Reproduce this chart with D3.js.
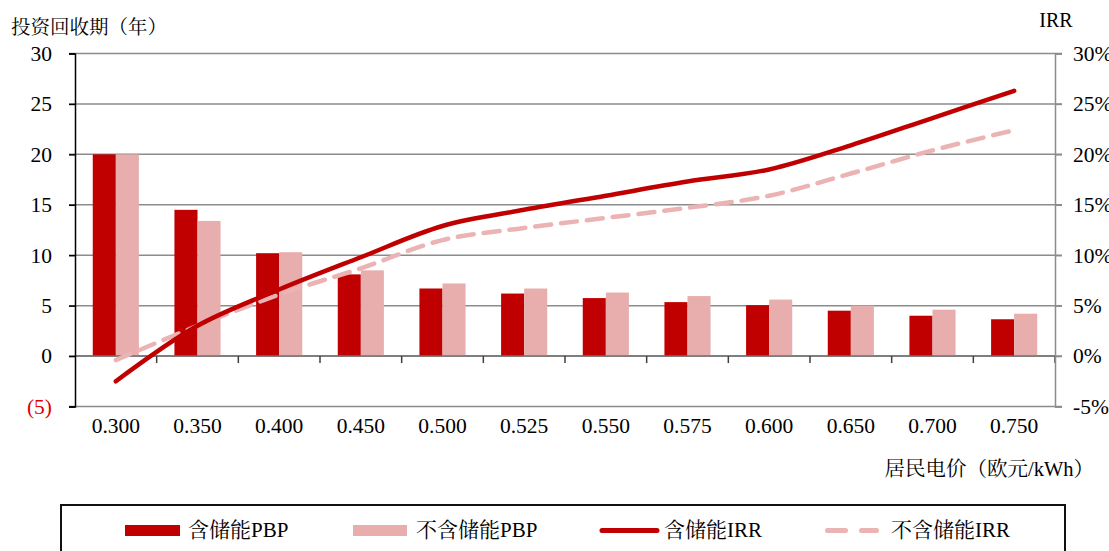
<!DOCTYPE html>
<html>
<head>
<meta charset="utf-8">
<script src="https://cdn.jsdelivr.net/npm/d3@7"></script>
<style>
  html, body { margin: 0; padding: 0; background: #fff; }
  svg { display: block; }
  text { font-family: "Liberation Serif", "Times New Roman", "Noto Serif CJK SC", "Noto Sans CJK SC", serif; }
</style>
</head>
<body>
<svg id="chart" width="1109" height="551"></svg>
<script>
// Residential electricity price (EUR/kWh)
const prices = ["0.300","0.350","0.400","0.450","0.500","0.525","0.550","0.575","0.600","0.650","0.700","0.750"];
// Payback period (years)
const pbpWithStorage    = [20.0, 14.5, 10.2, 8.1, 6.7, 6.2, 5.75, 5.35, 5.05, 4.5, 4.0, 3.65];
const pbpWithoutStorage = [20.0, 13.4, 10.3, 8.5, 7.2, 6.7, 6.3, 5.95, 5.6, 5.0, 4.6, 4.2];
// Internal rate of return (%)
const irrWithStorage    = [-2.5, 3.0, 6.6, 9.8, 12.9, 14.5, 15.9, 17.3, 18.5, 20.9, 23.6, 26.3];
const irrWithoutStorage = [-0.4, 3.0, 6.1, 8.7, 11.5, 12.7, 13.7, 14.7, 15.9, 18.1, 20.4, 22.4];
// Axis ticks
const leftTicks  = [-5, 0, 5, 10, 15, 20, 25, 30];
const rightTicks = [-5, 0, 5, 10, 15, 20, 25, 30];

const seriesNames = ["含储能PBP", "不含储能PBP", "含储能IRR", "不含储能IRR"];
const colors = { dark: "#C00000", light: "#E8AEAE", dash: "#EBB3B3", grid: "#8c8c8c" };

const svg = d3.select("#chart");
const plotLeft = 75, plotRight = 1055, plotTop = 53.5, plotBottom = 406.5;
const numFont = 21.5;

const x = d3.scaleBand().domain(prices).range([plotLeft, plotRight]).paddingInner(0).paddingOuter(0);
const sub = d3.scaleBand().domain(["with", "without"]).range([0, x.bandwidth()]).paddingInner(0).paddingOuter(0.77);
const y = d3.scaleLinear().domain([-5, 30]).range([plotBottom, plotTop]);   // years
const yr = d3.scaleLinear().domain([-5, 30]).range([plotBottom, plotTop]);  // percent

// Horizontal gridlines
svg.append("g").selectAll("line").data(leftTicks).join("line")
  .attr("x1", plotLeft - 6).attr("x2", plotRight + 7)
  .attr("y1", d => y(d)).attr("y2", d => y(d))
  .attr("stroke", colors.grid).attr("stroke-width", 1.5);

// Bars
const groups = svg.append("g").selectAll("g").data(prices).join("g")
  .attr("transform", d => `translate(${x(d)},0)`);
groups.append("rect")
  .attr("x", sub("with")).attr("width", sub.bandwidth())
  .attr("y", (d, i) => y(pbpWithStorage[i]))
  .attr("height", (d, i) => y(0) - y(pbpWithStorage[i]))
  .attr("fill", colors.dark);
groups.append("rect")
  .attr("x", sub("without")).attr("width", sub.bandwidth())
  .attr("y", (d, i) => y(pbpWithoutStorage[i]))
  .attr("height", (d, i) => y(0) - y(pbpWithoutStorage[i]))
  .attr("fill", colors.light);

// Category axis on the zero line
const xAxis = svg.append("g").attr("transform", `translate(0,${y(0)})`);
xAxis.append("line").attr("x1", plotLeft).attr("x2", plotRight).attr("y1", 0).attr("y2", 0)
  .attr("stroke", "#707070").attr("stroke-width", 1.5);
xAxis.selectAll("line.tk").data(prices).join("line")
  .attr("class", "tk")
  .attr("x1", d => x(d) + x.step()).attr("x2", d => x(d) + x.step())
  .attr("y1", 0).attr("y2", 7)
  .attr("stroke", "#404040").attr("stroke-width", 1.5);

// Category labels below the plot
svg.append("g").selectAll("text").data(prices).join("text")
  .attr("x", d => x(d) + x.bandwidth() / 2).attr("y", plotBottom + 26)
  .attr("text-anchor", "middle").attr("font-size", numFont).attr("fill", "#000").text(d => d);

// Left axis
const yAxis = d3.axisLeft(y).tickValues(leftTicks).tickSize(6).tickPadding(17)
  .tickFormat(d => d < 0 ? `(${-d})` : d);
const gl = svg.append("g").attr("transform", `translate(${plotLeft},0)`).call(yAxis);
gl.attr("font-size", null).attr("font-family", null);
gl.select(".domain").attr("stroke", "#000").attr("stroke-width", 1.5);
gl.selectAll(".tick line").attr("stroke", "#000").attr("stroke-width", 1.5);
gl.selectAll(".tick text").style("font-size", numFont + "px")
  .style("fill", d => d < 0 ? "#E00000" : "#000");

// Right axis
const yAxisR = d3.axisRight(yr).tickValues(rightTicks).tickSize(7).tickPadding(11)
  .tickFormat(d => d + "%");
const gr = svg.append("g").attr("transform", `translate(${plotRight},0)`).call(yAxisR);
gr.attr("font-size", null).attr("font-family", null);
gr.select(".domain").attr("stroke", colors.grid).attr("stroke-width", 1.5);
gr.selectAll(".tick line").attr("stroke", colors.grid).attr("stroke-width", 1.5);
gr.selectAll(".tick text").style("font-size", numFont + "px").style("fill", "#000");

// IRR lines
const line = d3.line()
  .x((d, i) => x(prices[i]) + x.bandwidth() / 2)
  .y(d => yr(d))
  .curve(d3.curveCatmullRom.alpha(0.5));
svg.append("path").datum(irrWithoutStorage).attr("d", line)
  .attr("fill", "none").attr("stroke", colors.dash).attr("stroke-width", 4.5)
  .attr("stroke-dasharray", "16 10").attr("stroke-linecap", "round");
svg.append("path").datum(irrWithStorage).attr("d", line)
  .attr("fill", "none").attr("stroke", colors.dark).attr("stroke-width", 4.5)
  .attr("stroke-linecap", "round");

// Axis titles
svg.append("text").attr("x", 11).attr("y", 34).attr("font-size", 19.5).attr("fill", "#000")
  .text("投资回收期（年）");
svg.append("text").attr("x", 1056).attr("y", 27).attr("text-anchor", "middle").attr("font-size", 20)
  .attr("fill", "#000").text("IRR");
svg.append("text").attr("x", 1094).attr("y", 476).attr("text-anchor", "end").attr("font-size", 20.5)
  .attr("fill", "#000").text("居民电价（欧元/kWh）");

// Legend
const lg = svg.append("g");
lg.append("rect").attr("x", 61).attr("y", 505).attr("width", 1004).attr("height", 60)
  .attr("fill", "none").attr("stroke", "#111").attr("stroke-width", 2);
const items = [
  { name: seriesNames[0], type: "bar", color: colors.dark, x0: 125, x1: 180, tx: 188 },
  { name: seriesNames[1], type: "bar", color: colors.light, x0: 353, x1: 407, tx: 416 },
  { name: seriesNames[2], type: "line", color: colors.dark, x0: 602, x1: 657, tx: 664 },
  { name: seriesNames[3], type: "dash", color: colors.dash, x0: 827.5, x1: 876.5, tx: 891 }
];
items.forEach(it => {
  if (it.type === "bar") {
    lg.append("rect").attr("x", it.x0).attr("y", 525).attr("width", it.x1 - it.x0).attr("height", 11).attr("fill", it.color);
  } else {
    lg.append("line").attr("x1", it.x0).attr("x2", it.x1).attr("y1", 530.5).attr("y2", 530.5)
      .attr("stroke", it.color).attr("stroke-width", 5).attr("stroke-linecap", "round")
      .attr("stroke-dasharray", it.type === "dash" ? "18 16" : null);
  }
  lg.append("text").attr("x", it.tx).attr("y", 537).attr("font-size", 21).attr("fill", "#000").text(it.name);
});
</script>
</body>
</html>
